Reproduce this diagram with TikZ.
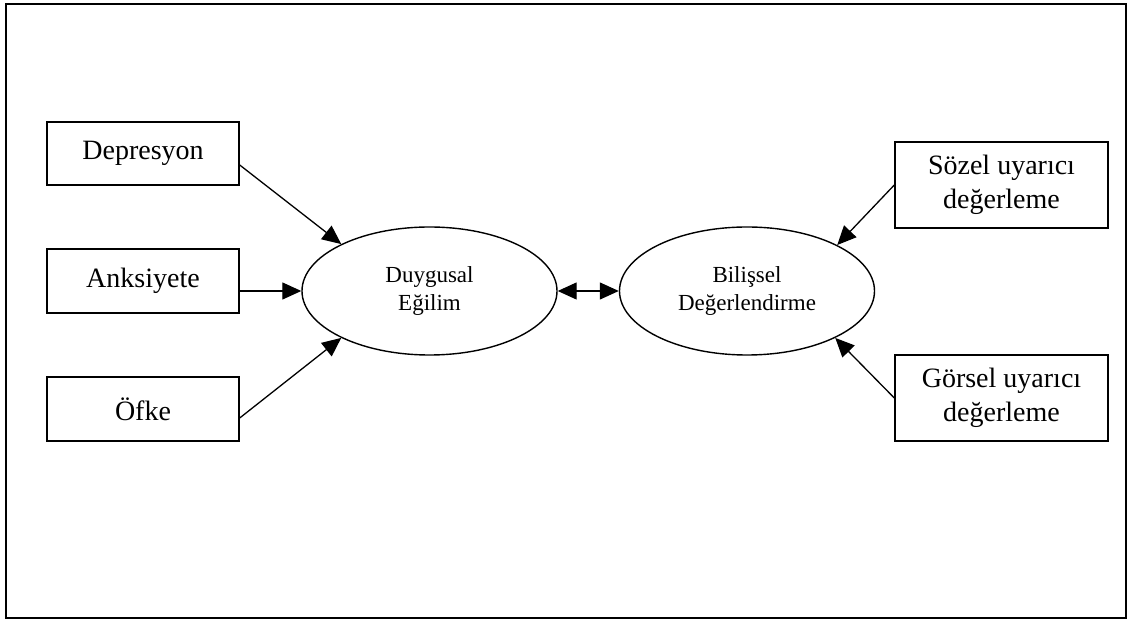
\documentclass[tikz,border=0pt]{standalone}
\usepackage{fontspec}
\setmainfont{Liberation Serif}
\usetikzlibrary{arrows.meta,shapes.geometric}
\tikzset{
  boxnode/.style={draw,line width=1.4pt,minimum width=192pt,inner sep=0pt,align=center,
    font=\fontsize{28}{33.6}\selectfont},
  ovalnode/.style={draw,ellipse,line width=1.4pt,minimum width=255pt,minimum height=128pt,inner sep=0pt,align=center,
    font=\fontsize{23}{28}\selectfont},
  conn/.style={line width=1.3pt,-{Triangle[length=19pt,width=17pt]}},
  dconn/.style={line width=1.3pt,{Triangle[length=19pt,width=17pt]}-{Triangle[length=19pt,width=17pt]}}
}
\begin{document}
\begin{tikzpicture}[x=1pt,y=1pt]
\useasboundingbox (0,0) rectangle (1128,621);
\draw[line width=2pt] (5.5,3) rectangle (1126,616.5);
\node[boxnode,minimum height=63pt] (dep) at (143,467.5) {Depresyon};
\node[boxnode,minimum height=64pt] (anx) at (143,340) {Anksiyete};
\node[boxnode,minimum height=64pt] (ofk) at (143,212) {Öfke};
\node[ovalnode] (due) at (429.5,330) {Duygusal\\Eğilim};
\node[ovalnode] (bil) at (747,330) {Bilişsel\\Değerlendirme};
\node[boxnode,minimum width=213pt,minimum height=86pt] (soz) at (1001.5,436) {Sözel uyarıcı\\değerleme};
\node[boxnode,minimum width=213pt,minimum height=86pt] (gor) at (1001.5,223) {Görsel uyarıcı\\değerleme};
\draw[conn] ([yshift=-11.5pt]dep.east) -- (due.152);
\draw[conn] (anx.east |- due.west) -- (due.west);
\draw[conn] ([yshift=-9pt]ofk.east) -- (due.208);
\draw[dconn] (due.east) -- (bil.west);
\draw[conn] (soz.west) -- (bil.27);
\draw[conn] (gor.west) -- (bil.-28);
\end{tikzpicture}
\end{document}
